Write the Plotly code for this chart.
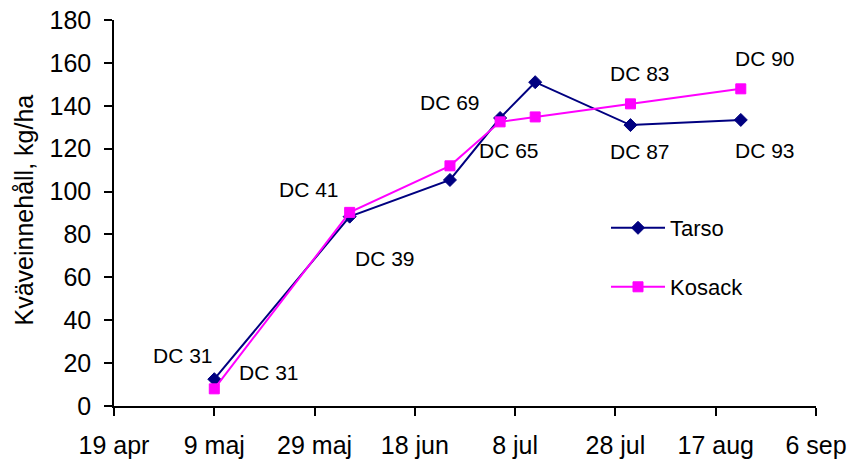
import plotly.graph_objects as go

# ---- data ----
tarso_dates = ["2004-05-09", "2004-06-05", "2004-06-25", "2004-07-05", "2004-07-12", "2004-07-31", "2004-08-22"]
tarso_values = [12.5, 88.3, 105.4, 134.3, 151.0, 131.0, 133.4]

kosack_dates = ["2004-05-09", "2004-06-05", "2004-06-25", "2004-07-05", "2004-07-12", "2004-07-31", "2004-08-22"]
kosack_values = [8.0, 90.3, 112.0, 132.5, 134.8, 140.9, 147.9]

tick_dates = ["2004-04-19", "2004-05-09", "2004-05-29", "2004-06-18", "2004-07-08", "2004-07-28", "2004-08-17", "2004-09-06"]
tick_labels = ["19 apr", "9 maj", "29 maj", "18 jun", "8 jul", "28 jul", "17 aug", "6 sep"]

# DC labels: point index -> text
tarso_dc = {0: "DC 31", 1: "DC 39", 3: "DC 69", 5: "DC 87", 6: "DC 93"}
kosack_dc = {0: "DC 31", 1: "DC 41", 3: "DC 65", 5: "DC 83", 6: "DC 90"}

# label pixel offsets from their point
tarso_off = {0: (-31, 24), 1: (35, -42), 3: (-50, 16), 5: (10, -26), 6: (24, -31)}
kosack_off = {0: (55, 16), 1: (-41, 23), 3: (9, -29), 5: (10, 30), 6: (24, 30)}

FONT = "Liberation Sans, Arial, sans-serif"
NAVY = "#000080"
MAG = "#FF00FF"

fig = go.Figure()
fig.add_trace(go.Scatter(
    x=tarso_dates, y=tarso_values, name="Tarso", mode="lines+markers",
    line=dict(color=NAVY, width=2),
    marker=dict(symbol="diamond", size=10, color=NAVY, line=dict(color=NAVY, width=1)),
    legend="legend",
))
fig.add_trace(go.Scatter(
    x=kosack_dates, y=kosack_values, name="Kosack", mode="lines+markers",
    line=dict(color=MAG, width=2),
    marker=dict(symbol="square", size=10, color=MAG, line=dict(color=MAG, width=1)),
    legend="legend2",
))

annotations = []
for dates, vals, dc, off in [(tarso_dates, tarso_values, tarso_dc, tarso_off),
                             (kosack_dates, kosack_values, kosack_dc, kosack_off)]:
    for i, txt in dc.items():
        dx, dy = off[i]
        annotations.append(dict(
            x=dates[i], y=vals[i], xref="x", yref="y", text=txt, showarrow=False,
            xanchor="center", yanchor="middle", xshift=dx, yshift=dy,
            font=dict(family=FONT, size=21, color="black"),
        ))

# y-axis title as annotation
annotations.append(dict(
    x=(23 - 114) / 702, y=(406 - 210.5) / 386, xref="paper", yref="paper",
    text="Kväveinnehåll, kg/ha", showarrow=False, textangle=-90,
    xanchor="center", yanchor="middle",
    font=dict(family=FONT, size=25, color="black"),
))

fig.update_layout(
    width=851, height=461,
    margin=dict(l=114, r=35, t=20, b=55, autoexpand=False),
    paper_bgcolor="white", plot_bgcolor="white",
    font=dict(family=FONT, size=25, color="black"),
    annotations=annotations,
    legend=dict(x=(606 - 114) / 702, y=(406 - 228) / 386, xanchor="left", yanchor="middle",
                itemwidth=54,
                font=dict(family=FONT, size=22, color="black"), bgcolor="rgba(0,0,0,0)"),
    legend2=dict(x=(606 - 114) / 702, y=(406 - 287) / 386, xanchor="left", yanchor="middle",
                 itemwidth=54,
                 font=dict(family=FONT, size=22, color="black"), bgcolor="rgba(0,0,0,0)"),
    showlegend=True,
)
fig.update_xaxes(
    type="date", range=["2004-04-19", "2004-09-06"],
    tickmode="array", tickvals=tick_dates, ticktext=tick_labels,
    ticks="outside", ticklen=8, tickwidth=1.5, tickcolor="black",
    showline=True, linecolor="black", linewidth=1.5,
    showgrid=False, zeroline=False, automargin=False,
    tickfont=dict(family=FONT, size=25, color="black"),
    ticklabelstandoff=8,
)
fig.update_yaxes(
    range=[0, 180], tickmode="linear", tick0=0, dtick=20,
    ticks="outside", ticklen=8, tickwidth=1.5, tickcolor="black",
    showline=True, linecolor="black", linewidth=1.5,
    showgrid=False, zeroline=False, automargin=False,
    tickfont=dict(family=FONT, size=25, color="black"),
    ticklabelstandoff=8,
)

fig.write_html("out.html")
